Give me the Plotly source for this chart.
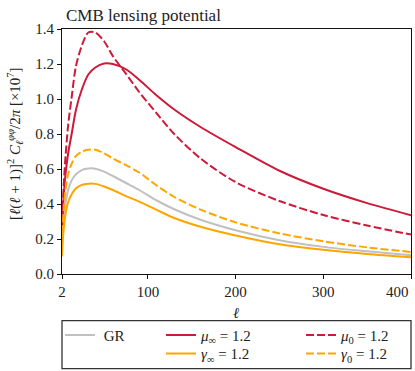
import plotly.graph_objects as go

ell = [2, 3, 4, 6, 9, 13, 18, 25, 32, 40, 50, 60, 75, 90, 110, 130, 160, 200, 250, 300, 350, 400]

gr = [0.15, 0.25, 0.31, 0.40, 0.48, 0.535, 0.57, 0.595, 0.603, 0.602, 0.585, 0.56, 0.52, 0.48,
      0.42, 0.37, 0.31, 0.25, 0.193, 0.155, 0.13, 0.107]
mu_inf = [0.25, 0.36, 0.45, 0.57, 0.69, 0.80, 0.94, 1.06, 1.14, 1.18, 1.203, 1.20, 1.17, 1.11,
          1.02, 0.94, 0.84, 0.725, 0.59, 0.487, 0.405, 0.336]
mu_0 = [0.25, 0.40, 0.51, 0.67, 0.85, 1.01, 1.19, 1.31, 1.38, 1.38, 1.33, 1.245, 1.144, 1.04,
        0.918, 0.80, 0.66, 0.525, 0.417, 0.337, 0.277, 0.225]
gamma_inf = [0.10, 0.20, 0.26, 0.34, 0.41, 0.455, 0.49, 0.51, 0.516, 0.515, 0.50, 0.48, 0.445, 0.414,
             0.366, 0.32, 0.27, 0.22, 0.17, 0.138, 0.114, 0.095]
gamma_0 = [0.17, 0.29, 0.37, 0.48, 0.57, 0.63, 0.675, 0.70, 0.71, 0.71, 0.69, 0.66, 0.622, 0.58,
           0.506, 0.44, 0.368, 0.295, 0.232, 0.187, 0.152, 0.126]

x_ticks = [2, 100, 200, 300, 400]
x_tick_labels = ["2", "100", "200", "300", "400"]
y_ticks = [0.0, 0.2, 0.4, 0.6, 0.8, 1.0, 1.2, 1.4]

RED = "#CC1A38"
ORANGE = "#FFA500"
GREY = "#C0C0C0"
FONT = "Liberation Serif"

W, H = 415, 371
L, R, T, B = 62, 4, 29, 97
PW = W - L - R
PH = H - T - B

ROW1, ROW2 = 318.7, 337.3
series = [
    ("\u00a0GR", gr, GREY, "solid", "legend", 60, ROW1),
    ("<i>μ</i><sub>∞</sub> = 1.2", mu_inf, RED, "solid", "legend2", 161, ROW1),
    ("<i>μ</i><sub>0</sub> = 1.2", mu_0, RED, "8px,3px", "legend3", 301, ROW1),
    ("<i>γ</i><sub>∞</sub> = 1.2", gamma_inf, ORANGE, "solid", "legend4", 161, ROW2),
    ("<i>γ</i><sub>0</sub> = 1.2", gamma_0, ORANGE, "8px,3px", "legend5", 301, ROW2),
]

fig = go.Figure()
legends = {}
for name, ys, col, dash, lg, lx, ly in series:
    fig.add_trace(go.Scatter(x=ell, y=ys, mode="lines", name=name, legend=lg, showlegend=True,
                             line=dict(color=col, width=2, dash=dash, shape="spline", smoothing=0.8)))
    legends[lg] = dict(xref="container", yref="container", xanchor="left", yanchor="top",
                       x=lx / W, y=1 - ly / H, bgcolor="rgba(0,0,0,0)", borderwidth=0,
                       font=dict(family=FONT, size=15, color="#222"))

# last x tick label is drawn right-aligned at its tick so it stays inside the figure
tick_text_shown = x_tick_labels[:-1] + [""]

fig.update_layout(
    width=W, height=H, showlegend=True,
    margin=dict(l=L, r=R, t=T, b=B, autoexpand=False),
    plot_bgcolor="white", paper_bgcolor="white",
    font=dict(family=FONT, size=15, color="#222"),
    title=dict(text="CMB lensing potential", xref="container", yref="container",
               x=66 / W, xanchor="left", y=1 - 15 / H, yanchor="middle",
               font=dict(family=FONT, size=17, color="#222")),
    xaxis=dict(range=[2, 400], tickvals=x_ticks, ticktext=tick_text_shown,
               showgrid=False, zeroline=False, showline=True, linecolor="#111", linewidth=1.2,
               mirror=True, ticks="outside", ticklen=4, tickwidth=1, tickcolor="#111",
               automargin=False),
    yaxis=dict(range=[0, 1.4], tickvals=y_ticks, ticktext=[f"{v:.1f}" for v in y_ticks],
               showgrid=False, zeroline=False, showline=True, linecolor="#111", linewidth=1.2,
               mirror=True, ticks="outside", ticklen=4, tickwidth=1, tickcolor="#111",
               automargin=False),
    annotations=[
        dict(text=x_tick_labels[-1], xref="x", yref="paper", x=x_ticks[-1], y=(274 - 292) / PH,
             xanchor="right", yanchor="middle", showarrow=False, font=dict(family=FONT, size=15, color="#222")),
        dict(text="<i>ℓ</i>", xref="paper", yref="paper", x=(236 - L) / PW, y=(274 - 313) / PH,
             xanchor="center", yanchor="middle", showarrow=False, font=dict(family=FONT, size=15, color="#222")),
        dict(text="[<i>ℓ</i>(<i>ℓ</i> + 1)]<sup>2</sup> <i>C</i><sub><i>ℓ</i></sub><sup><i>φφ</i></sup>/2<i>π</i> [×10<sup>7</sup>]",
             xref="paper", yref="paper", x=(15 - L) / PW, y=(274 - 144) / PH, textangle=-90,
             xanchor="center", yanchor="middle", showarrow=False, font=dict(family=FONT, size=15, color="#222")),
    ],
    shapes=[dict(type="rect", xref="paper", yref="paper",
                 x0=0, x1=1, y0=(274 - 368.7) / PH, y1=(274 - 320.7) / PH,
                 line=dict(color="#333", width=1.3), fillcolor="rgba(0,0,0,0)")],
    **legends,
)

fig.write_html("out.html", config={"displayModeBar": False},
               post_script="document.body.style.margin='0';document.body.style.padding='0';")
